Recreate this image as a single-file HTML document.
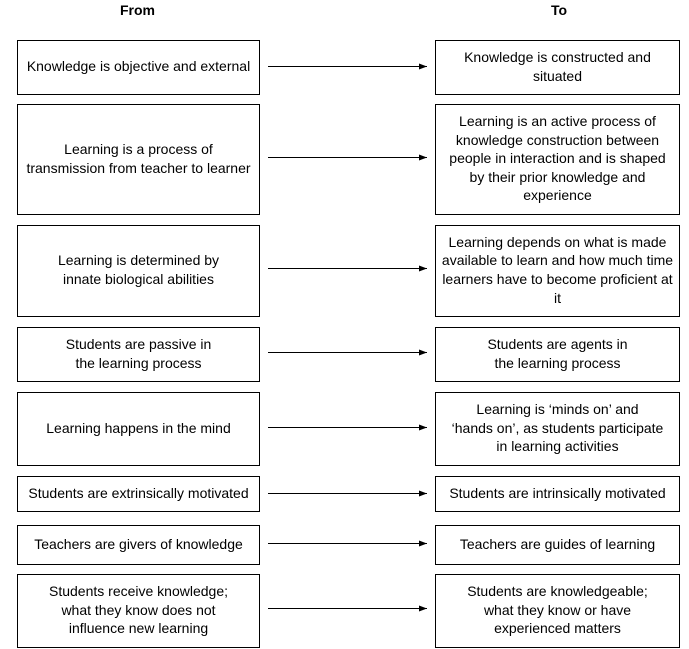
<!DOCTYPE html>
<html><head><meta charset="utf-8"><style>
body{margin:0;width:689px;height:649px;background:#fff;position:relative;font-family:"Liberation Sans",Arial,sans-serif;font-size:14px;color:#000;overflow:hidden}
.b{position:absolute;border:1px solid #000;box-sizing:border-box;display:flex;align-items:center;justify-content:center;text-align:center;line-height:18.6px;padding:0 0 2px 0;white-space:nowrap}
.l{left:17px;width:243px}
.r{left:435px;width:245px}
.h{position:absolute;top:2px;font-weight:bold;font-size:14px}
svg{position:absolute;left:0;top:0}
</style></head><body>
<div class="h" style="left:120px">From</div>
<div class="h" style="left:551px">To</div>

<div class="b l" style="top:40px;height:55px">Knowledge is objective and external</div>
<div class="b r" style="top:40px;height:55px">Knowledge is constructed and<br>situated</div>

<div class="b l" style="top:104px;height:111px">Learning is a process of<br>transmission from teacher to learner</div>
<div class="b r" style="top:104px;height:111px">Learning is an active process of<br>knowledge construction between<br>people in interaction and is shaped<br>by their prior knowledge and<br>experience</div>

<div class="b l" style="top:225px;height:92px">Learning is determined by<br>innate biological abilities</div>
<div class="b r" style="top:225px;height:92px">Learning depends on what is made<br>available to learn and how much time<br>learners have to become proficient at<br>it</div>

<div class="b l" style="top:327px;height:55px">Students are passive in<br>the learning process</div>
<div class="b r" style="top:327px;height:55px">Students are agents in<br>the learning process</div>

<div class="b l" style="top:392px;height:74px">Learning happens in the mind</div>
<div class="b r" style="top:392px;height:74px">Learning is ‘minds on’ and<br>‘hands on’, as students participate<br>in learning activities</div>

<div class="b l" style="top:476px;height:36px">Students are extrinsically motivated</div>
<div class="b r" style="top:476px;height:36px">Students are intrinsically motivated</div>

<div class="b l" style="top:525px;height:40px">Teachers are givers of knowledge</div>
<div class="b r" style="top:525px;height:40px">Teachers are guides of learning</div>

<div class="b l" style="top:574px;height:74px">Students receive knowledge;<br>what they know does not<br>influence new learning</div>
<div class="b r" style="top:574px;height:74px">Students are knowledgeable;<br>what they know or have<br>experienced matters</div>

<svg width="689" height="649">
<defs><marker id="a" markerWidth="8" markerHeight="6" refX="8" refY="3" orient="auto" markerUnits="userSpaceOnUse"><path d="M0,0 L8,3 L0,6 Z" fill="#000"/></marker></defs>
<g stroke="#000" stroke-width="1" marker-end="url(#a)">
<line x1="268" y1="66.5" x2="427" y2="66.5"/>
<line x1="268" y1="157.5" x2="427" y2="157.5"/>
<line x1="268" y1="268.5" x2="427" y2="268.5"/>
<line x1="268" y1="352.5" x2="427" y2="352.5"/>
<line x1="268" y1="427.5" x2="427" y2="427.5"/>
<line x1="268" y1="493.5" x2="427" y2="493.5"/>
<line x1="268" y1="543.5" x2="427" y2="543.5"/>
<line x1="268" y1="608.5" x2="427" y2="608.5"/>
</g></svg>
</body></html>
